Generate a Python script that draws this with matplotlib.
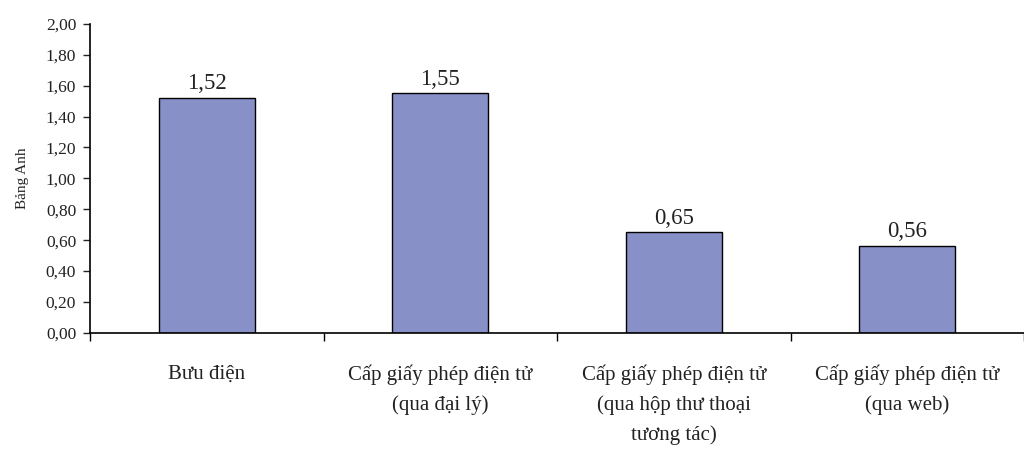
import matplotlib
matplotlib.use("Agg")
from matplotlib import pyplot as plt
from matplotlib.ticker import FixedLocator, FuncFormatter

categories = ["Bưu điện",
              "Cấp giấy phép điện tử\n(qua đại lý)",
              "Cấp giấy phép điện tử\n(qua hộp thư thoại\ntương tác)",
              "Cấp giấy phép điện tử\n(qua web)"]
values = [1.52, 1.55, 0.65, 0.56]
y_ticks = [0.0, 0.2, 0.4, 0.6, 0.8, 1.0, 1.2, 1.4, 1.6, 1.8, 2.0]

plt.rcParams['font.family'] = ['Liberation Serif', 'DejaVu Serif']

fig = plt.figure(figsize=(10.24, 4.51), dpi=100)
ax = fig.add_axes([0.088, 0.262, 0.912, 0.685])

x = list(range(len(categories)))
bars = ax.bar(x, values, width=0.41, color="#8890c8", edgecolor="black", linewidth=1.0, zorder=2)
for xi, v in zip(x, values):
    ax.text(xi, v + 0.025, ("%.2f" % v).replace(".", ","), ha="center", va="bottom",
            fontsize=16.5, color="#222222")

ax.set_xlim(-0.5, 3.5)
ax.set_ylim(0, 2.0)
ax.set_yticks(y_ticks)
ax.yaxis.set_major_formatter(FuncFormatter(lambda v, p: ("%.2f" % v).replace(".", ",")))
ax.tick_params(axis="y", direction="out", length=5, width=1, labelsize=12.5, pad=5, colors="#222222")

ax.set_xticks(x)
ax.set_xticklabels(categories, fontsize=15, color="#222222", linespacing=1.7, va="top")
ax.tick_params(axis="x", which="major", length=0, pad=23)
ax.xaxis.set_minor_locator(FixedLocator([-0.5, 0.5, 1.5, 2.5, 3.5]))
ax.tick_params(axis="x", which="minor", direction="out", length=6, width=1)

ax.set_ylabel("Bảng Anh", fontsize=11, labelpad=12, color="#222222")
ax.spines["top"].set_visible(False)
ax.spines["right"].set_visible(False)
ax.spines["left"].set_linewidth(1.2)
ax.spines["bottom"].set_linewidth(1.2)

fig.savefig("out.png", dpi=100)
